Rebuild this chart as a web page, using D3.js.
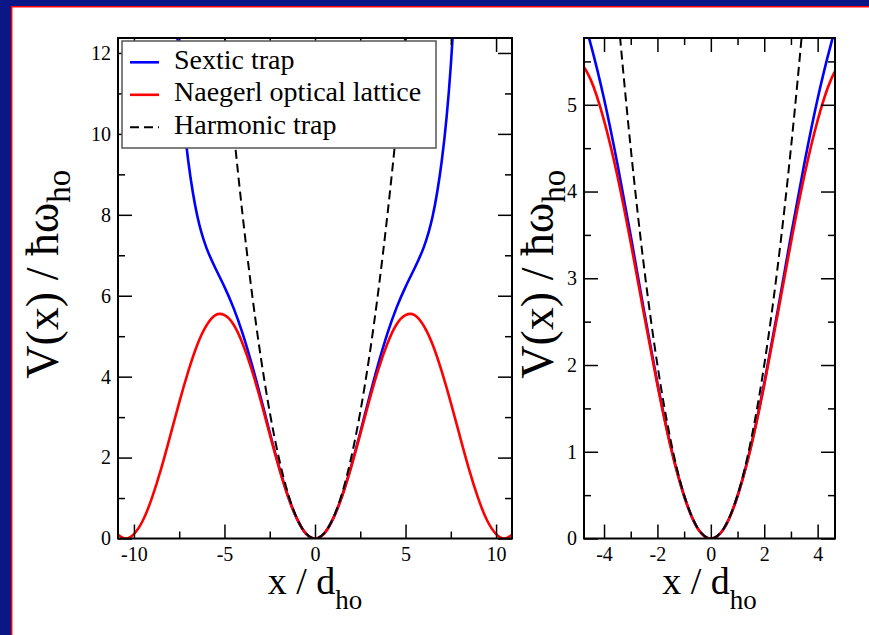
<!DOCTYPE html>
<html>
<head>
<meta charset="utf-8">
<script src="https://cdn.jsdelivr.net/npm/d3@7"></script>
<style>
  body { margin: 0; background: #fff; }
  svg { display: block; font-family: "Liberation Serif", "Times New Roman", serif; }
</style>
</head>
<body>
<svg id="chart" width="869" height="635"></svg>
<script>
// ---------- data ----------
const sexticX = [-8, -7.5, -7, -6.5, -6, -5.5, -5, -4.5, -4, -3.5, -3, -2.5, -2, -1.5, -1, -0.5,
  0, 0.5, 1, 1.5, 2, 2.5, 3, 3.5, 4, 4.5, 5, 5.5, 6, 6.5, 7, 7.5, 8];
const sexticV = [15.66, 11.69, 9.33, 7.97, 7.19, 6.68, 6.22, 5.70, 5.07, 4.32, 3.49, 2.62, 1.79, 1.06, 0.49, 0.12,
  0, 0.12, 0.49, 1.06, 1.79, 2.62, 3.49, 4.32, 5.07, 5.70, 6.22, 6.68, 7.19, 7.97, 9.33, 11.69, 15.66];

const naegerlX = [-11, -10.5, -10, -9.5, -9, -8.5, -8, -7.5, -7, -6.5, -6, -5.5, -5, -4.5, -4, -3.5, -3, -2.5, -2, -1.5, -1, -0.5,
  0, 0.5, 1, 1.5, 2, 2.5, 3, 3.5, 4, 4.5, 5, 5.5, 6, 6.5, 7, 7.5, 8, 8.5, 9, 9.5, 10, 10.5, 11];
const naegerlV = [0.14, 0.00, 0.11, 0.45, 1.01, 1.72, 2.53, 3.36, 4.13, 4.79, 5.26, 5.52, 5.52, 5.29, 4.82, 4.18, 3.41, 2.58, 1.77, 1.05, 0.49, 0.12,
  0, 0.12, 0.49, 1.05, 1.77, 2.58, 3.41, 4.18, 4.82, 5.29, 5.52, 5.52, 5.26, 4.79, 4.13, 3.36, 2.53, 1.72, 1.01, 0.45, 0.11, 0.00, 0.14];

const harmonicX = [-5.5, -5, -4.5, -4, -3.5, -3, -2.5, -2, -1.5, -1, -0.5, 0, 0.5, 1, 1.5, 2, 2.5, 3, 3.5, 4, 4.5, 5, 5.5];
const harmonicV = [15.125, 12.5, 10.125, 8, 6.125, 4.5, 3.125, 2, 1.125, 0.5, 0.125, 0, 0.125, 0.5, 1.125, 2, 3.125, 4.5, 6.125, 8, 10.125, 12.5, 15.125];

const legendLabels = ["Sextic trap", "Naegerl optical lattice", "Harmonic trap"];

// tick labels, left panel
const leftXTicks = [-10, -5, 0, 5, 10];
const leftXMinor = [-7.5, -2.5, 2.5, 7.5];
const leftYTicks = [0, 2, 4, 6, 8, 10, 12];
const leftYMinor = [1, 3, 5, 7, 9, 11];
// tick labels, right panel
const rightXTicks = [-4, -2, 0, 2, 4];
const rightXMinor = [-3, -1, 1, 3];
const rightYTicks = [0, 1, 2, 3, 4, 5];
const rightYMinor = [0.5, 1.5, 2.5, 3.5, 4.5, 5.5];

// ---------- series styles ----------
const series = [
  { xs: sexticX, vs: sexticV, color: "#0000ff", dash: null },
  { xs: naegerlX, vs: naegerlV, color: "#ff0000", dash: null },
  { xs: harmonicX, vs: harmonicV, color: "#000000", dash: "9,5" }
];

const serif = '"Liberation Serif", "Times New Roman", serif';
const svg = d3.select("#chart");
svg.append("rect").attr("width", 869).attr("height", 635).attr("fill", "#fff");

// frame of the slide
svg.append("rect").attr("x", 0).attr("y", 0).attr("width", 869).attr("height", 6).attr("fill", "#0b1687");
svg.append("rect").attr("x", 0).attr("y", 0).attr("width", 11).attr("height", 635).attr("fill", "#0b1687");
svg.append("line").attr("x1", 11).attr("x2", 869).attr("y1", 6.7).attr("y2", 6.7).attr("stroke", "#ff0000").attr("stroke-width", 1.5);
svg.append("line").attr("x1", 11.7).attr("x2", 11.7).attr("y1", 6).attr("y2", 635).attr("stroke", "#ff0000").attr("stroke-width", 1.5);

const panels = [
  { id: "L", left: 118, right: 512, top: 38, bottom: 538.5, xDom: [-10.88, 10.88], yDom: [0, 12.37],
    xT: leftXTicks, xm: leftXMinor, yT: leftYTicks, ym: leftYMinor, yLabX: 58, legend: true },
  { id: "R", left: 584, right: 835, top: 38, bottom: 538.5, xDom: [-4.75, 4.65], yDom: [0, 5.77],
    xT: rightXTicks, xm: rightXMinor, yT: rightYTicks, ym: rightYMinor, yLabX: 553, legend: false }
];

panels.forEach(p => {
  const x = d3.scaleLinear().domain(p.xDom).range([p.left, p.right]);
  const y = d3.scaleLinear().domain(p.yDom).range([p.bottom, p.top]);
  const g = svg.append("g");

  g.append("clipPath").attr("id", "clip" + p.id)
    .append("rect").attr("x", p.left).attr("y", p.top)
    .attr("width", p.right - p.left).attr("height", p.bottom - p.top);

  const line = d3.line().x(d => x(d[0])).y(d => y(d[1])).curve(d3.curveNatural);
  const curves = g.append("g").attr("clip-path", `url(#clip${p.id})`);
  series.forEach(s => {
    curves.append("path")
      .datum(s.xs.map((v, i) => [v, s.vs[i]]))
      .attr("d", line)
      .attr("fill", "none")
      .attr("stroke", s.color)
      .attr("stroke-width", s.dash ? 2 : 2.6)
      .attr("stroke-dasharray", s.dash);
  });

  // ticks, all pointing inside
  const fmt = d => String(d);
  const mk = (axis, tr, labels) => {
    const a = g.append("g").attr("transform", tr).call(axis);
    a.select(".domain").remove();
    a.selectAll("line").attr("stroke", "#000").attr("stroke-width", 1.5);
    if (labels) {
      a.attr("font-family", serif).attr("font-size", 20);
      a.selectAll("text").attr("fill", "#000").style("font-family", serif).style("font-size", "20px");
    } else {
      a.selectAll("text").remove();
    }
  };
  mk(d3.axisBottom(x).tickValues(p.xT).tickSize(-14).tickPadding(8).tickFormat(fmt), `translate(0,${p.bottom})`, true);
  mk(d3.axisBottom(x).tickValues(p.xm).tickSize(-7), `translate(0,${p.bottom})`, false);
  mk(d3.axisTop(x).tickValues(p.xT).tickSize(-14), `translate(0,${p.top})`, false);
  mk(d3.axisTop(x).tickValues(p.xm).tickSize(-7), `translate(0,${p.top})`, false);
  mk(d3.axisLeft(y).tickValues(p.yT).tickSize(-14).tickPadding(7).tickFormat(fmt), `translate(${p.left},0)`, true);
  mk(d3.axisLeft(y).tickValues(p.ym).tickSize(-7), `translate(${p.left},0)`, false);
  mk(d3.axisRight(y).tickValues(p.yT).tickSize(-14), `translate(${p.right},0)`, false);
  mk(d3.axisRight(y).tickValues(p.ym).tickSize(-7), `translate(${p.right},0)`, false);

  g.append("rect").attr("x", p.left).attr("y", p.top)
    .attr("width", p.right - p.left).attr("height", p.bottom - p.top)
    .attr("fill", "none").attr("stroke", "#000").attr("stroke-width", 2);

  // axis titles
  const xl = g.append("text").attr("x", (p.left + p.right) / 2).attr("y", 594)
    .attr("text-anchor", "middle").style("font-size", "38px");
  xl.append("tspan").text("x / d");
  xl.append("tspan").attr("dy", 15).style("font-size", "27px").text("ho");

  const yl = g.append("text")
    .attr("transform", `translate(${p.yLabX},${(p.top + p.bottom) / 2 - 14}) rotate(-90)`)
    .attr("text-anchor", "middle").style("font-size", "46px");
  yl.append("tspan").text("V(x) / ħω");
  yl.append("tspan").attr("dy", 12).style("font-size", "33px").text("ho");

  if (p.legend) {
    const lg = g.append("g");
    lg.append("rect").attr("x", 122).attr("y", 41).attr("width", 314).attr("height", 107)
      .attr("fill", "#fff").attr("stroke", "#555").attr("stroke-width", 1.5);
    legendLabels.forEach((t, i) => {
      const cy = 62.3 + i * 32.5;
      lg.append("line").attr("x1", 130).attr("x2", 159).attr("y1", cy).attr("y2", cy)
        .attr("stroke", series[i].color).attr("stroke-width", series[i].dash ? 2 : 2.6)
        .attr("stroke-dasharray", series[i].dash);
      lg.append("text").attr("x", 174).attr("y", cy + 6.5)
        .style("font-size", "28px").text(t);
    });
  }
});
</script>
</body>
</html>
